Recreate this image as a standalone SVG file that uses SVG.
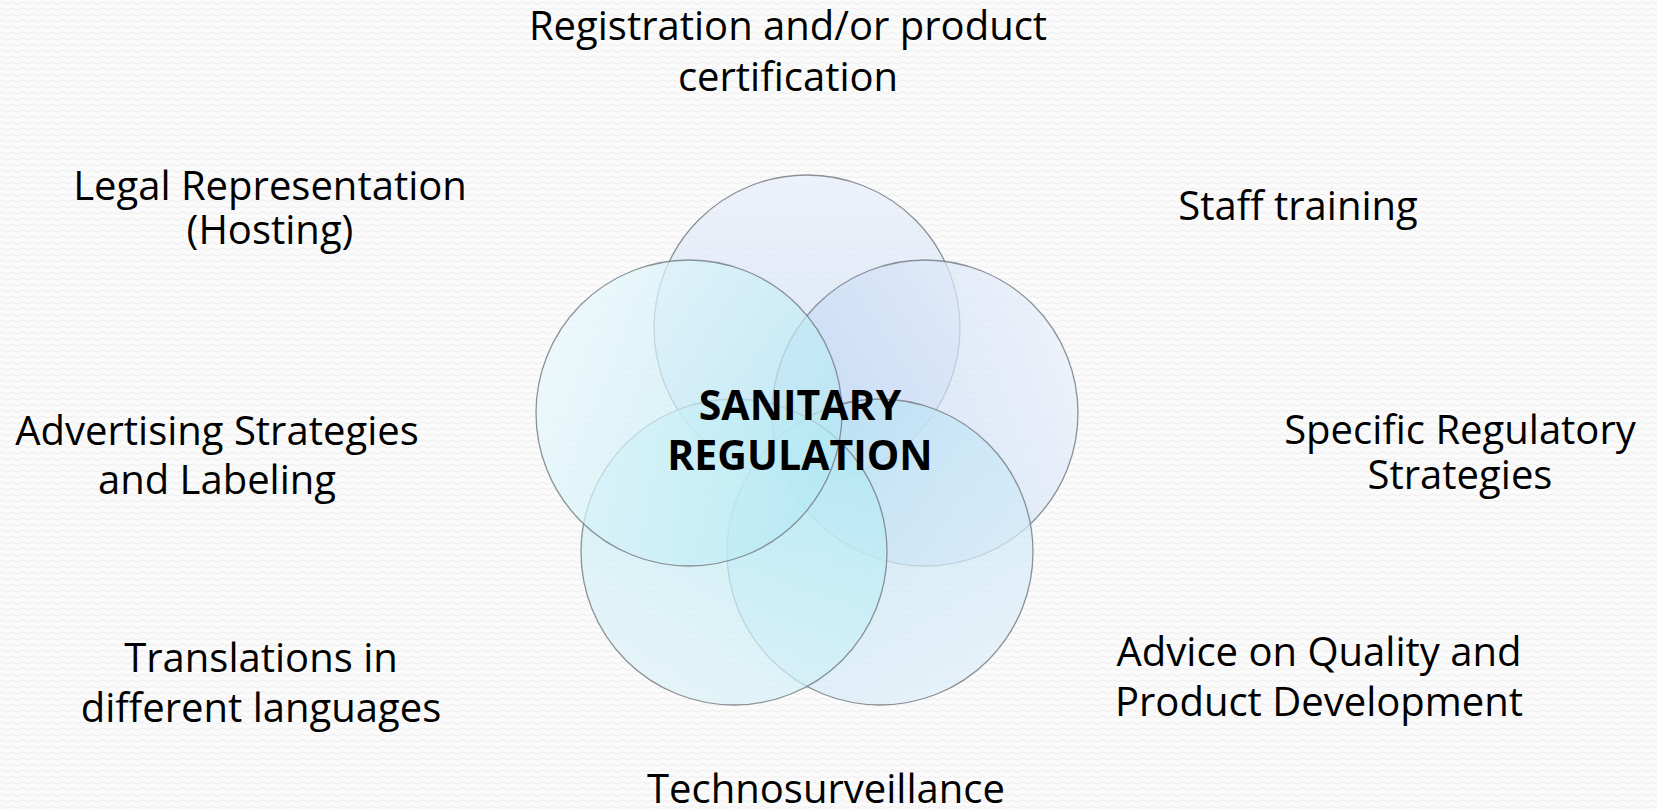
<svg xmlns="http://www.w3.org/2000/svg" width="1657" height="809" viewBox="0 0 1657 809">
<defs>
<style>
.lbl{font-family:"Open Sans","Noto Sans","DejaVu Sans",sans-serif;font-size:40px;fill:#000;text-anchor:middle}
.ctr{font-family:"Open Sans","Noto Sans","DejaVu Sans",sans-serif;font-size:41px;font-weight:bold;fill:#000;text-anchor:middle}
.ring{stroke:#787f86;stroke-width:1.3;stroke-opacity:0.85}
</style>
<pattern id="bg" width="10" height="6" patternUnits="userSpaceOnUse">
<rect width="10" height="6" fill="#fbfbfb"/>
<path d="M0 3 Q2.5 0.5 5 3 T10 3" fill="none" stroke="#ececec" stroke-width="1"/>
</pattern>
<linearGradient id="gTop" x1="0.5" y1="0" x2="0.5" y2="1">
<stop offset="0" stop-color="#eaeff9" stop-opacity="0.75"/>
<stop offset="1" stop-color="#c2d8f5" stop-opacity="0.65"/>
</linearGradient>
<linearGradient id="gRight" x1="1" y1="0.3" x2="0" y2="0.7">
<stop offset="0" stop-color="#e9effa" stop-opacity="0.75"/>
<stop offset="1" stop-color="#bad3f4" stop-opacity="0.65"/>
</linearGradient>
<linearGradient id="gLeft" x1="0" y1="0.3" x2="1" y2="0.7">
<stop offset="0" stop-color="#eaf8fc" stop-opacity="0.75"/>
<stop offset="1" stop-color="#b2e8f3" stop-opacity="0.65"/>
</linearGradient>
<linearGradient id="gBL" x1="0.2" y1="1" x2="0.8" y2="0">
<stop offset="0" stop-color="#e2f3f9" stop-opacity="0.75"/>
<stop offset="1" stop-color="#ace9f3" stop-opacity="0.65"/>
</linearGradient>
<linearGradient id="gBR" x1="0.8" y1="1" x2="0.2" y2="0">
<stop offset="0" stop-color="#e3eff9" stop-opacity="0.75"/>
<stop offset="1" stop-color="#b2e1f4" stop-opacity="0.65"/>
</linearGradient>
</defs>
<rect width="1657" height="809" fill="url(#bg)"/>
<g id="venn">
<g id="circle-top"><circle class="ring" cx="807" cy="328" r="153" fill="url(#gTop)"/></g>
<g id="circle-right"><circle class="ring" cx="925" cy="413" r="153" fill="url(#gRight)"/></g>
<g id="circle-bottom-right"><circle class="ring" cx="880" cy="552" r="153" fill="url(#gBR)"/></g>
<g id="circle-bottom-left"><circle class="ring" cx="734" cy="552" r="153" fill="url(#gBL)"/></g>
<g id="circle-left"><circle class="ring" cx="689" cy="413" r="153" fill="url(#gLeft)"/></g>
</g>
<g id="connectors"/>
<g id="center"><text class="ctr" x="800" y="420">SANITARY</text><text class="ctr" x="800" y="470">REGULATION</text></g>
<g id="registration"><text class="lbl" x="788" y="40">Registration and/or product</text><text class="lbl" x="788" y="91">certification</text></g>
<g id="legal"><text class="lbl" x="270" y="200">Legal Representation</text><text class="lbl" x="270" y="244">(Hosting)</text></g>
<g id="staff"><text class="lbl" x="1298" y="220">Staff training</text></g>
<g id="advertising"><text class="lbl" x="217" y="445">Advertising Strategies</text><text class="lbl" x="217" y="494">and Labeling</text></g>
<g id="specific"><text class="lbl" x="1460" y="444">Specific Regulatory</text><text class="lbl" x="1460" y="489">Strategies</text></g>
<g id="translations"><text class="lbl" x="261" y="672">Translations in</text><text class="lbl" x="261" y="722">different languages</text></g>
<g id="advice"><text class="lbl" x="1319" y="666">Advice on Quality and</text><text class="lbl" x="1319" y="716">Product Development</text></g>
<g id="techno"><text class="lbl" x="826" y="803">Technosurveillance</text></g>
</svg>
